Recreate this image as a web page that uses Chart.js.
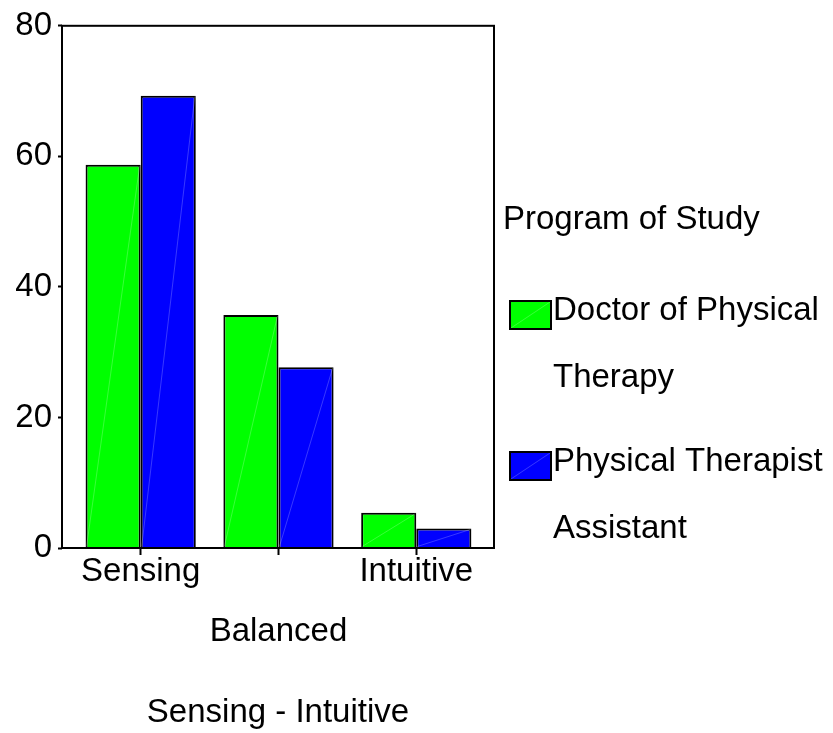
<!DOCTYPE html>
<html lang="en">
<head>
<meta charset="UTF-8">
<title>Sensing - Intuitive</title>
<script src="https://cdn.jsdelivr.net/npm/chart.js@4"></script>
<style>
  body { margin: 0; background: #fff; }
</style>
</head>
<body>
<canvas id="chart" width="833" height="733"></canvas>
<script>
// values
const categories = ['Sensing', 'Balanced', 'Intuitive'];
const seriesNames = ['Doctor of Physical Therapy', 'Physical Therapist Assistant'];
const seriesColors = ['#00ff00', '#0000ff'];
const doctorPT = [58.7, 35.7, 5.4];
const therapistAsst = [69.3, 27.7, 3.0];
const yTicks = [0, 20, 40, 60, 80];
const legendTitle = 'Program of Study';
const axisTitle = 'Sensing - Intuitive';

const FONT = '"Liberation Sans", Arial, sans-serif';
Chart.defaults.font.family = FONT;
Chart.defaults.font.size = 33;
Chart.defaults.color = '#000';

// split "A B C" into ["A B", "C"] like the legend wraps
function wrapName(name) {
    const k = name.lastIndexOf(' ');
    return [name.slice(0, k), name.slice(k + 1)];
}

const framePlugin = {
    id: 'frame',
    afterDatasetsDraw(chart) {
        const ctx = chart.ctx;
        ctx.save();
        ctx.strokeStyle = 'rgba(255,255,255,0.22)';
        ctx.lineWidth = 1;
        chart.data.datasets.forEach((ds, i) => {
            chart.getDatasetMeta(i).data.forEach(bar => {
                const l = bar.x - bar.width / 2, r = bar.x + bar.width / 2;
                ctx.beginPath();
                ctx.moveTo(l + 1, bar.base - 1);
                ctx.lineTo(r - 1, bar.y + 1);
                ctx.stroke();
            });
        });
        ctx.restore();
    },
    afterDraw(chart) {
        const ctx = chart.ctx, a = chart.chartArea;
        ctx.save();
        ctx.strokeStyle = '#000';
        ctx.lineWidth = 2;
        ctx.strokeRect(a.left, a.top, a.right - a.left, a.bottom - a.top);

        // legend
        ctx.font = '33px ' + FONT;
        ctx.fillStyle = '#000';
        ctx.textBaseline = 'middle';
        ctx.textAlign = 'left';
        ctx.fillText(legendTitle, 503, 220);
        chart.data.datasets.forEach((ds, i) => {
            const top = 301 + i * 151;
            ctx.fillStyle = ds.backgroundColor;
            ctx.fillRect(510, top, 41, 28);
            ctx.strokeStyle = 'rgba(255,255,255,0.22)';
            ctx.lineWidth = 1;
            ctx.beginPath();
            ctx.moveTo(511, top + 27);
            ctx.lineTo(550, top + 1);
            ctx.stroke();
            ctx.strokeStyle = '#000';
            ctx.lineWidth = 2;
            ctx.strokeRect(510, top, 41, 28);
            ctx.fillStyle = '#000';
            wrapName(ds.label).forEach((line, j) => {
                ctx.fillText(line, 553, top + 10 + j * 67);
            });
        });
        ctx.restore();
    }
};

const toPoints = arr => arr.map((v, i) => ({ x: i, y: v }));

new Chart(document.getElementById('chart'), {
    type: 'bar',
    data: {
        datasets: [doctorPT, therapistAsst].map((vals, i) => ({
            label: seriesNames[i],
            data: toPoints(vals),
            backgroundColor: seriesColors[i],
            borderColor: '#000',
            borderWidth: 2,
            categoryPercentage: 0.8,
            barPercentage: 1
        }))
    },
    options: {
        responsive: false,
        animation: false,
        layout: { padding: { top: 24, right: 339, left: 0, bottom: 0 } },
        plugins: {
            legend: { display: false },
            tooltip: { enabled: false }
        },
        scales: {
            x: {
                type: 'linear',
                offset: false,
                min: -0.571,
                max: 2.564,
                afterBuildTicks: s => { s.ticks = categories.map((c, i) => ({ value: i })); },
                afterFit: s => { s.height = 185; },
                border: { display: false },
                grid: {
                    offset: false,
                    drawOnChartArea: false,
                    drawTicks: true,
                    tickLength: 7,
                    tickWidth: 2,
                    tickColor: '#000'
                },
                ticks: {
                    autoSkip: false,
                    minRotation: 0,
                    maxRotation: 0,
                    padding: -13,
                    font: { size: 33, lineHeight: 60 / 33 },
                    callback: v => {
                        const i = Math.round(v);
                        return i % 2 === 1 ? ['', categories[i]] : categories[i];
                    }
                },
                title: {
                    display: true,
                    text: axisTitle,
                    font: { size: 33, lineHeight: 1 },
                    padding: { top: 0, bottom: 3.5 }
                }
            },
            y: {
                min: yTicks[0],
                max: yTicks[yTicks.length - 1],
                afterBuildTicks: s => { s.ticks = yTicks.map(v => ({ value: v })); },
                afterFit: s => { s.width = 62; },
                border: { display: false },
                grid: {
                    drawOnChartArea: false,
                    drawTicks: true,
                    tickLength: 4,
                    tickWidth: 2,
                    tickColor: '#000'
                },
                ticks: {
                    padding: 6,
                    font: { size: 33 }
                }
            }
        }
    },
    plugins: [framePlugin]
});
</script>
</body>
</html>
